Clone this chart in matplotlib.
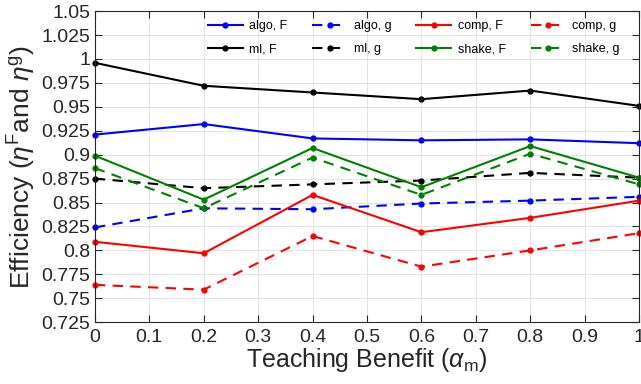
import matplotlib
matplotlib.use('Agg')
import matplotlib.pyplot as plt
from matplotlib.ticker import FixedLocator, FuncFormatter

plt.rcParams['font.family'] = ['Liberation Sans', 'DejaVu Sans']
plt.rcParams['mathtext.fontset'] = 'custom'
plt.rcParams['mathtext.rm'] = 'Liberation Sans'
plt.rcParams['mathtext.it'] = 'Liberation Sans:italic'

# Teaching benefit values (x axis)
alpha = [0, 0.2, 0.4, 0.6, 0.8, 1.0]

# Efficiency series
algo_F = [0.921, 0.932, 0.917, 0.915, 0.916, 0.912]
algo_g = [0.824, 0.844, 0.843, 0.849, 0.852, 0.856]
comp_F = [0.809, 0.797, 0.858, 0.819, 0.834, 0.852]
comp_g = [0.764, 0.759, 0.815, 0.783, 0.800, 0.818]
ml_F = [0.996, 0.972, 0.965, 0.958, 0.967, 0.951]
ml_g = [0.875, 0.865, 0.869, 0.873, 0.881, 0.876]
shake_F = [0.899, 0.853, 0.907, 0.866, 0.909, 0.876]
shake_g = [0.886, 0.844, 0.897, 0.858, 0.901, 0.869]

series = [
    ('algo, F', algo_F, 'blue', '-'),
    ('algo, g', algo_g, 'blue', '--'),
    ('comp, F', comp_F, 'red', '-'),
    ('comp, g', comp_g, 'red', '--'),
    ('ml, F', ml_F, 'black', '-'),
    ('ml, g', ml_g, 'black', '--'),
    ('shake, F', shake_F, '#008000', '-'),
    ('shake, g', shake_g, '#008000', '--'),
]

x_ticks = [0, 0.1, 0.2, 0.3, 0.4, 0.5, 0.6, 0.7, 0.8, 0.9, 1.0]
y_ticks = [0.725, 0.75, 0.775, 0.8, 0.825, 0.85, 0.875, 0.9, 0.925,
           0.95, 0.975, 1.0, 1.025, 1.05]

fig = plt.figure(figsize=(6.41, 3.84), dpi=100)
ax = fig.add_axes([0.148, 0.161, 0.849, 0.810])

handles = []
for label, vals, color, ls in series:
    line, = ax.plot(alpha, vals, color=color, linestyle=ls, linewidth=1.5,
                    marker='o', markersize=3.5, label=label, clip_on=False)
    if ls == '--':
        line.set_dashes((5, 3.5))
    handles.append(line)

ax.set_xlim(0, 1)
ax.set_ylim(0.725, 1.05)
ax.xaxis.set_major_locator(FixedLocator(x_ticks))
ax.yaxis.set_major_locator(FixedLocator(y_ticks))
fmt = FuncFormatter(lambda v, p: ('%.3f' % v).rstrip('0').rstrip('.'))
ax.xaxis.set_major_formatter(fmt)
ax.yaxis.set_major_formatter(fmt)

ax.tick_params(direction='in', length=5, width=0.8, labelsize=14,
               top=True, right=True, colors='#262626')
ax.tick_params(axis='x', pad=5)
ax.grid(True, color='#e3e3e3', linewidth=0.7)
ax.set_axisbelow(True)
for s in ax.spines.values():
    s.set_color('#262626')
    s.set_linewidth(0.8)

ax.set_xlabel(r'Teaching Benefit ($\alpha_{\rm m}$)', fontsize=18,
              color='#262626', labelpad=0)
ax.set_ylabel(r'Efficiency ($\eta^{\rm F}$and $\eta^{\rm g}$)', fontsize=19,
              color='#262626', labelpad=2)

# legend is filled row by row, like the original
order = [0, 4, 1, 5, 2, 6, 3, 7]
ax.legend([handles[i] for i in order], [series[i][0] for i in order],
          loc='upper right', ncol=4, frameon=False, fontsize=9,
          handlelength=2.8, handletextpad=0.5, columnspacing=2.0,
          labelspacing=0.9, borderaxespad=0.3, bbox_to_anchor=(0.98, 1.0))

fig.savefig('out.png', dpi=100)
